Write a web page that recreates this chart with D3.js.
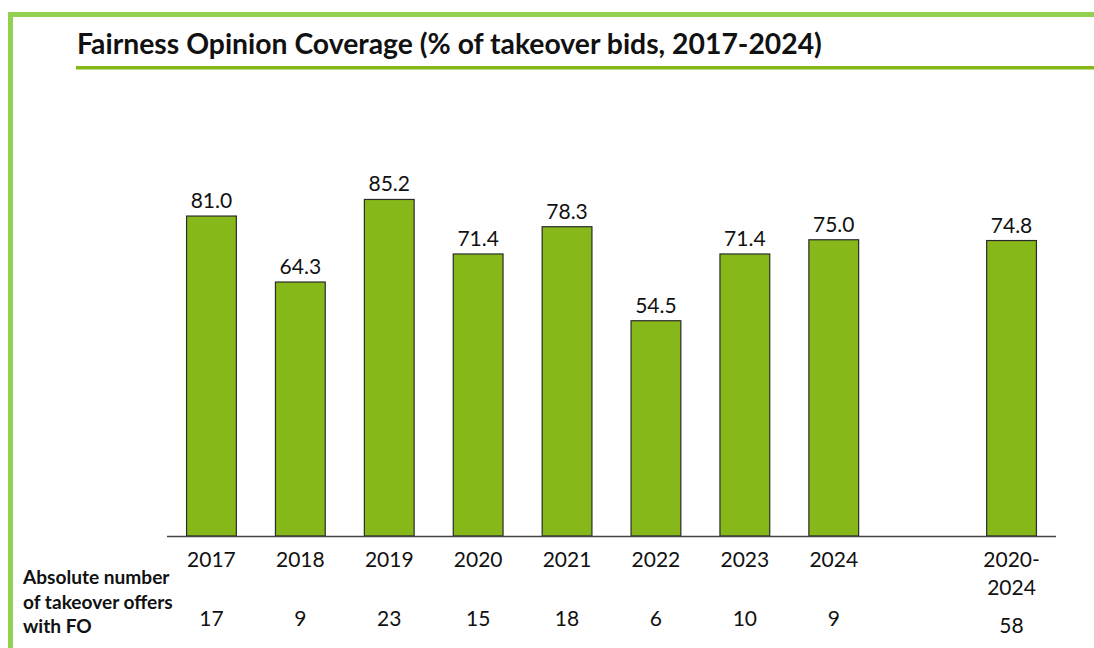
<!DOCTYPE html>
<html>
<head>
<meta charset="utf-8">
<script src="https://cdn.jsdelivr.net/npm/d3@7.9.0/dist/d3.min.js"></script>
<style>
  html, body { margin: 0; padding: 0; background: #fff; }
  svg { display: block; font-family: Lato, "Open Sans", sans-serif; }
</style>
</head>
<body>
<svg id="chart" width="1094" height="648"></svg>
<script>
const categories = ['2017', '2018', '2019', '2020', '2021', '2022', '2023', '2024', '', '2020-2024'];
const coverage   = [81.0, 64.3, 85.2, 71.4, 78.3, 54.5, 71.4, 75.0, null, 74.8];
const offersWithFO = [17, 9, 23, 15, 18, 6, 10, 9, null, 58];
const titleText = 'Fairness Opinion Coverage (% of takeover bids, 2017-2024)';
const rowLabel  = ['Absolute number', 'of takeover offers', 'with FO'];

const W = 1094, H = 648;
const FRAME = '#92d050', BAR = '#86b81a', RULE = '#84b819';

const svg = d3.select('#chart');

// shrink/grow a text node until it is as wide as the original
function fitWidth(sel, base, target) {
  const w = sel.node().getBBox().width;
  sel.attr('font-size', base * target / w);
}

// frame (left + top edges, box runs off the slide)
svg.append('path')
  .attr('d', `M${10.5},${H} V${14.5} H${W}`)
  .attr('fill', 'none')
  .attr('stroke', FRAME)
  .attr('stroke-width', 5);

// title + underline
const title = svg.append('text')
  .attr('x', 77).attr('y', 54)
  .attr('font-weight', 700)
  .attr('font-size', 26)
  .attr('fill', '#111')
  .text(titleText);
fitWidth(title, 26, 745);

svg.append('rect')
  .attr('x', 76).attr('y', 66)
  .attr('width', W - 76).attr('height', 3.5)
  .attr('fill', RULE);

// scales
const x = d3.scaleBand()
  .domain(d3.range(categories.length))
  .range([167, 1056])
  .paddingInner(0.44)
  .paddingOuter(0.22);

const y = d3.scaleLinear().domain([0, 100]).range([536, 141]);

const rows = categories.map((c, i) => ({ i, cat: c, v: coverage[i], n: offersWithFO[i] }));
const withBar = rows.filter(d => d.v != null);
const cx = d => x(d.i) + x.bandwidth() / 2;

// bars
svg.append('g').selectAll('rect')
  .data(withBar)
  .join('rect')
    .attr('x', d => x(d.i))
    .attr('y', d => y(d.v))
    .attr('width', x.bandwidth())
    .attr('height', d => y(0) - y(d.v))
    .attr('fill', BAR)
    .attr('stroke', '#2b2b2b')
    .attr('stroke-width', 1.2);

// baseline
svg.append('line')
  .attr('x1', 167).attr('x2', 1056)
  .attr('y1', y(0) + 0.5).attr('y2', y(0) + 0.5)
  .attr('stroke', '#444')
  .attr('stroke-width', 1.3);

// value labels
svg.append('g').selectAll('text')
  .data(withBar)
  .join('text')
    .attr('x', cx)
    .attr('y', d => y(d.v) - 8)
    .attr('text-anchor', 'middle')
    .attr('font-size', 21)
    .attr('fill', '#111')
    .text(d => d.v.toFixed(1));

// category labels (split "2020-2024" over two lines)
svg.append('g').selectAll('text')
  .data(rows.filter(d => d.cat))
  .join('text')
    .attr('x', cx)
    .attr('y', 567)
    .attr('text-anchor', 'middle')
    .attr('font-size', 21)
    .attr('fill', '#111')
    .each(function (d) {
      const parts = d.cat.includes('-') ? [d.cat.split('-')[0] + '-', d.cat.split('-')[1]] : [d.cat];
      d3.select(this).selectAll('tspan')
        .data(parts)
        .join('tspan')
          .attr('x', cx(d))
          .attr('dy', (p, k) => k === 0 ? 0 : 28)
          .text(p => p);
    });

// absolute numbers row
svg.append('g').selectAll('text')
  .data(rows.filter(d => d.n != null))
  .join('text')
    .attr('x', cx)
    .attr('y', d => d.cat.includes('-') ? 633 : 626)
    .attr('text-anchor', 'middle')
    .attr('font-size', 21)
    .attr('fill', '#111')
    .text(d => d.n);

// row header
const header = svg.append('text')
  .attr('x', 23).attr('y', 584)
  .attr('font-weight', 700)
  .attr('font-size', 16)
  .attr('fill', '#111');
header.selectAll('tspan')
  .data(rowLabel)
  .join('tspan')
    .attr('x', 23)
    .attr('dy', (d, k) => k === 0 ? 0 : 24.5)
    .text(d => d);
// widest line "of takeover offers" spans ~151px in the original
fitWidth(header, 16, 151);
</script>
</body>
</html>
